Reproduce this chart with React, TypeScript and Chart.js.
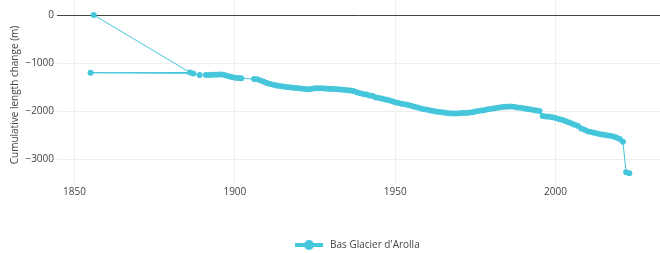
import React, { useEffect, useRef } from "react";
import { Chart, registerables } from "chart.js";

Chart.register(...registerables);

const seriesName = "Bas Glacier d'Arolla";

const years: number[] = [
  1856, 1886, 1855, 1887, 1889,
  1891, 1892, 1893, 1894, 1895, 1896, 1897, 1898, 1899, 1900, 1901, 1902,
  1906, 1907, 1908, 1909, 1910, 1911, 1912, 1913, 1914, 1915, 1916, 1917, 1918, 1919, 1920,
  1921, 1922, 1923, 1924, 1925, 1926, 1927, 1928, 1929, 1930,
  1931, 1932, 1933, 1934, 1935, 1936, 1937, 1938, 1939, 1940,
  1941, 1942, 1943, 1944, 1945, 1946, 1947, 1948, 1949, 1950,
  1951, 1952, 1953, 1954, 1955, 1956, 1957, 1958, 1959, 1960,
  1961, 1962, 1963, 1964, 1965, 1966, 1967, 1968, 1969, 1970,
  1971, 1972, 1973, 1974, 1975, 1976, 1977, 1978, 1979, 1980,
  1981, 1982, 1983, 1984, 1985, 1986, 1987, 1988, 1989, 1990,
  1991, 1992, 1993, 1994, 1995, 1996, 1997, 1998, 1999, 2000,
  2001, 2002, 2003, 2004, 2005, 2006, 2007, 2008, 2009, 2010,
  2011, 2012, 2013, 2014, 2015, 2016, 2017, 2018, 2019, 2020,
  2021, 2022, 2023,
];

const lengthChange: number[] = [
  0, -1195, -1200, -1215, -1245,
  -1247, -1246, -1244, -1240, -1235, -1238, -1255, -1275, -1290, -1305, -1312, -1317,
  -1330, -1335, -1360, -1390, -1415, -1435, -1450, -1465, -1476, -1486, -1495, -1504, -1512, -1518, -1525,
  -1532, -1540, -1545, -1535, -1525, -1524, -1525, -1528, -1532, -1536,
  -1540, -1545, -1550, -1556, -1563, -1572, -1580, -1605, -1625, -1642,
  -1655, -1672, -1685, -1715, -1728, -1742, -1758, -1775, -1793, -1812,
  -1832, -1845, -1858, -1870, -1888, -1907, -1925, -1942, -1958, -1972,
  -1985, -1998, -2010, -2018, -2028, -2038, -2044, -2046, -2046, -2044,
  -2040, -2036, -2031, -2020, -2008, -1996, -1985, -1973, -1962, -1950,
  -1938, -1927, -1918, -1910, -1905, -1903, -1910, -1922, -1930, -1940,
  -1952, -1962, -1975, -1986, -1997, -2102, -2108, -2115, -2128, -2140,
  -2160, -2180, -2205, -2230, -2255, -2282, -2308, -2358, -2385, -2418,
  -2435, -2450, -2465, -2478, -2490, -2502, -2512, -2525, -2548, -2580,
  -2634, -3270, -3291,
];

const xTicks: number[] = [1850, 1900, 1950, 2000];
const yTicks: number[] = [0, -1000, -2000, -3000];
const yTitle = "Cumulative length change (m)";

const COLOR = "#45c6da";
const FONT = '"Open Sans", verdana, arial, sans-serif';

const overlayPlugin = {
  id: "overlay",
  afterDraw(chart: any) {
    const ctx = chart.ctx;
    ctx.save();
    ctx.fillStyle = "#444";
    ctx.font = `10px ${FONT}`;
    ctx.textAlign = "center";
    ctx.textBaseline = "middle";
    ctx.translate(15, 95);
    ctx.rotate(-Math.PI / 2);
    ctx.fillText(yTitle, 0, 0);
    ctx.restore();

    ctx.save();
    const ly = 245;
    ctx.strokeStyle = COLOR;
    ctx.lineWidth = 4;
    ctx.beginPath();
    ctx.moveTo(295, ly);
    ctx.lineTo(323, ly);
    ctx.stroke();
    ctx.fillStyle = COLOR;
    ctx.beginPath();
    ctx.arc(309, ly, 5, 0, Math.PI * 2);
    ctx.fill();
    ctx.fillStyle = "#444";
    ctx.font = `10px ${FONT}`;
    ctx.textAlign = "left";
    ctx.textBaseline = "middle";
    ctx.fillText(seriesName, 330, ly);
    ctx.restore();
  },
};

export default function App() {
  const ref = useRef<HTMLCanvasElement>(null);
  useEffect(() => {
    document.body.style.margin = "0";
    if (!ref.current) return;
    const points = years.map((x, i) => ({ x, y: lengthChange[i] }));
    const chart = new Chart(ref.current, {
      type: "scatter",
      data: {
        datasets: [
          {
            label: seriesName,
            data: points,
            showLine: true,
            borderColor: COLOR,
            borderWidth: 1,
            backgroundColor: COLOR,
            pointBackgroundColor: COLOR,
            pointBorderWidth: 0,
            pointRadius: 3,
            pointHoverRadius: 3,
          },
        ],
      },
      options: {
        animation: false,
        responsive: false,
        events: [],
        layout: { autoPadding: false, padding: { left: 0, right: 0, top: 0, bottom: 50 } },
        plugins: {
          legend: { display: false },
          tooltip: { enabled: false },
        },
        scales: {
          x: {
            type: "linear",
            min: 1844.54,
            max: 2032.57,
            afterBuildTicks: (scale: any) => {
              scale.ticks = xTicks.map((v) => ({ value: v }));
            },
            afterFit: (scale: any) => {
              scale.height = 20;
              scale.paddingLeft = 0;
              scale.paddingRight = 0;
            },
            border: { display: false },
            grid: { color: "#eee", lineWidth: 1, drawTicks: false },
            ticks: {
              color: "#444",
              font: { family: FONT, size: 10 },
              padding: 3,
              maxRotation: 0,
              autoSkip: false,
              callback: (v: any) => String(v),
            },
          },
          y: {
            type: "linear",
            min: -3493,
            max: 312,
            afterBuildTicks: (scale: any) => {
              scale.ticks = yTicks.map((v) => ({ value: v }));
            },
            afterFit: (scale: any) => {
              scale.width = 57;
              scale.paddingTop = 0;
              scale.paddingBottom = 0;
            },
            border: { display: false },
            grid: {
              color: (c: any) => (c.tick && c.tick.value === 0 ? "#444" : "#eee"),
              lineWidth: 1,
              drawTicks: false,
            },
            ticks: {
              color: "#444",
              font: { family: FONT, size: 10 },
              padding: 3,
              autoSkip: false,
              callback: (v: any) => (v < 0 ? "\u2212" + Math.abs(v) : String(v)),
            },
          },
        },
      },
      plugins: [overlayPlugin],
    });
    return () => chart.destroy();
  }, []);
  return (
    <div style={{ width: 660, height: 253 }}>
      <canvas ref={ref} width={660} height={253} style={{ width: 660, height: 253, display: "block" }} />
    </div>
  );
}
